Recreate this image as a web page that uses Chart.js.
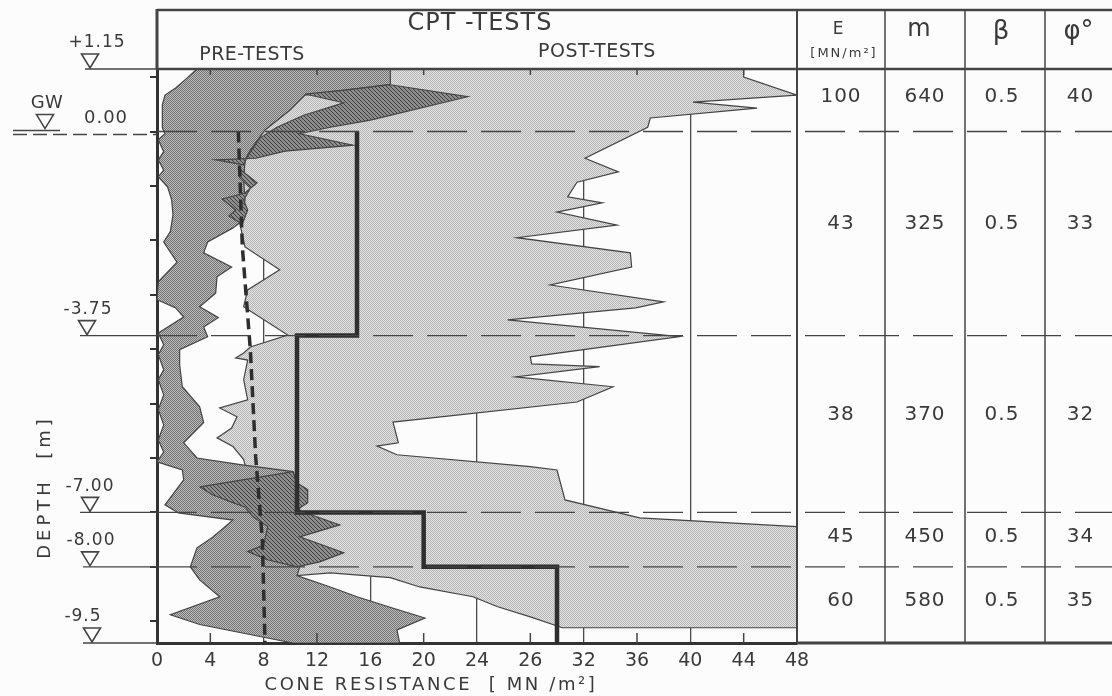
<!DOCTYPE html>
<html>
<head>
<meta charset="utf-8">
<title>CPT tests</title>
<script src="https://cdn.jsdelivr.net/npm/chart.js"></script>
<style>
  html, body { margin: 0; padding: 0; background: #fcfcfc; }
  #wrap { width: 1112px; height: 696px; }
</style>
</head>
<body>
<div id="wrap"><canvas id="cpt" width="1112" height="696"></canvas></div>
<script>
// cone resistance tick labels as printed (the figure has "26" where 28 belongs)
const xTickLabels = ['0', '4', '8', '12', '16', '20', '24', '26', '32', '36', '40', '44', '48'];

// levels marked on the depth axis [m]
const levelDepths = [1.15, 0.0, -3.75, -7.0, -8.0, -9.5];
const levelLabels = ['+1.15', '0.00', '-3.75', '-7.00', '-8.00', '-9.5'];

// soil layers and the values in the table
const layerTop = [1.15, 0.0, -3.75, -7.0, -8.0];
const layerBottom = [0.0, -3.75, -7.0, -8.0, -9.5];
const modulusE = [100, 43, 38, 45, 60];
const modulusM = [640, 325, 370, 450, 580];
const betaVals = [0.5, 0.5, 0.5, 0.5, 0.5];
const phiVals = [40, 33, 32, 34, 35];

// post-test envelope, outline [MN/m2] / [m]
const postQ = [44.0, 44.0, 48.0, 40.2, 45.0, 37.0, 36.8, 32.1, 34.6, 31.5, 30.8, 33.4, 30.0, 34.5, 27.0,
  35.5, 35.6, 29.5, 38.0, 35.9, 26.3, 39.2, 28.0, 28.1, 33.2, 26.9, 34.2, 31.5, 17.7, 18.1, 16.5, 18.0,
  28.0, 30.0, 30.6, 36.2, 48.0, 48.0, 30.4, 28.0, 25.5, 23.7, 19.7, 17.5, 13.0, 10.5, 8.5, 6.6, 6.5,
  5.7, 4.5, 5.6, 6.0, 4.7, 6.8, 6.5, 6.8, 5.9, 6.5, 7.0, 9.8, 6.5, 6.8, 9.2, 6.6, 6.2, 6.6, 6.2, 6.2];
const postDepth = [1.15, 1.00, 0.67, 0.54, 0.43, 0.25, 0.08, -0.49, -0.74, -0.93, -1.20, -1.31, -1.48, -1.72, -1.95,
  -2.23, -2.49, -2.82, -3.13, -3.24, -3.46, -3.77, -4.14, -4.27, -4.32, -4.51, -4.69, -4.97, -5.34, -5.72, -5.78, -5.94,
  -6.16, -6.22, -6.77, -7.10, -7.26, -9.12, -9.12, -8.92, -8.73, -8.55, -8.37, -8.20, -8.11, -8.16, -7.14, -6.13, -6.03,
  -5.79, -5.63, -5.45, -5.24, -5.08, -4.93, -4.56, -4.20, -4.16, -4.07, -3.96, -3.74, -3.22, -2.91, -2.54, -2.12, -1.68, -0.52, 0.03, 1.15];

// pre-test envelope, outline
const preQ = [17.5, 17.5, 11.1, 10.0, 8.1, 7.0, 6.6, 6.5, 6.6, 6.4, 6.2, 5.7, 3.8, 3.5, 5.6, 4.5, 4.4, 3.2,
  4.6, 3.5, 3.8, 1.7, 1.7, 1.9, 3.2, 3.5, 2.0, 3.0, 6.5, 10.2, 10.5, 10.7, 10.7, 10.7, 10.5, 13.0, 15.0,
  17.3, 20.1, 18.0, 18.2, 10.2,
  3.2, 1.0, 4.7, 3.2, 2.5, 3.0, 4.2, 5.7, 1.6, 0.6, 2.0, 1.9, 0.0, 0.5, 0.1, 0.5, 0.1, 0.5, 0.1, 0.5, 0.1,
  0.5, 0.1, 2.0, 1.4, 0.0, 0.1, 1.5, 0.5, 1.0, 1.2, 1.1, 0.8, 0.1, 0.5, 0.1, 0.5, 0.1, 0.6, 0.4, 0.4, 0.6,
  1.4, 2.1, 3.0];
const preDepth = [1.15, 0.87, 0.67, 0.40, 0.03, -0.34, -0.52, -0.89, -1.26, -1.53, -1.68, -1.77, -2.03, -2.23, -2.49, -2.67, -2.97, -3.22,
  -3.42, -3.59, -3.77, -4.01, -4.29, -4.69, -5.06, -5.35, -5.72, -6.00, -6.13, -6.25, -6.46, -6.95, -7.45, -8.00, -8.16, -8.37, -8.55,
  -8.73, -8.94, -9.16, -9.40, -9.40,
  -9.06, -8.88, -8.55, -8.24, -8.00, -7.65, -7.45, -7.14, -7.01, -6.86, -6.40, -6.22, -6.07, -5.89, -5.67, -5.39, -5.11, -4.84, -4.56, -4.38, -4.10,
  -3.92, -3.70, -3.41, -3.24, -3.09, -2.76, -2.40, -2.03, -1.84, -1.53, -1.26, -1.02, -0.83, -0.71, -0.52, -0.37, -0.15, -0.04, 0.07, 0.49, 0.67,
  0.80, 0.95, 1.15];

// hatched zones where the records overlap
const hatchTopQ = [11.1, 14.1, 17.5, 23.3, 16.0, 13.0, 10.7, 14.7, 9.6, 7.4, 4.4, 6.5, 6.8, 7.7, 9.0, 11.0, 14.0];
const hatchTopDepth = [0.69, 0.76, 0.86, 0.64, 0.21, 0.08, -0.04, -0.25, -0.36, -0.49, -0.52, -0.61, -0.45, -0.12, 0.08, 0.30, 0.53];
const hatchMidQ = [6.1, 7.5, 6.6, 4.9, 5.9, 5.4, 6.4, 6.8, 6.5, 7.0, 6.2];
const hatchMidDepth = [-0.67, -0.94, -1.13, -1.24, -1.44, -1.55, -1.70, -1.44, -1.26, -1.04, -0.85];
const hatchLowQ = [3.2, 10.2, 10.5, 11.3, 11.3, 10.5, 13.7, 10.7, 14.0, 12.2, 10.5, 8.3, 6.8, 8.0, 8.3, 7.2, 6.6, 5.7, 4.2];
const hatchLowDepth = [-6.53, -6.25, -6.46, -6.58, -6.82, -6.95, -7.23, -7.45, -7.74, -7.91, -8.00, -7.87, -7.72, -7.60, -7.26, -7.08, -6.90, -6.82, -6.68];

// mean of the pre-tests (dashed) and the design profile (step)
const meanQ = [6.1, 6.4, 7.0, 7.4, 7.9, 8.1];
const meanDepth = [0.0, -2.12, -4.01, -5.98, -7.50, -9.40];
const designQ = [15, 15, 10.5, 10.5, 20, 20, 30, 30];
const designDepth = [0.0, -3.75, -3.75, -7.0, -7.0, -8.0, -8.0, -9.5];

const ink = '#3a3a3a';
const paper = '#fcfcfc';
const fontFam = '"DejaVu Sans", "Noto Sans", sans-serif';

const canvas = document.getElementById('cpt');
const mainCtx = canvas.getContext('2d');

function makePattern(size, paint) {
    const c = document.createElement('canvas');
    c.width = size;
    c.height = size;
    paint(c.getContext('2d'));
    return mainCtx.createPattern(c, 'repeat');
}

// screened fills like the print
const lightFill = makePattern(2, g => {
    g.fillStyle = '#e3e3e3'; g.fillRect(0, 0, 2, 2);
    g.fillStyle = '#b5b5b5'; g.fillRect(0, 0, 1, 1); g.fillRect(1, 1, 1, 1);
});
const midFill = makePattern(2, g => {
    g.fillStyle = '#bebebe'; g.fillRect(0, 0, 2, 2);
    g.fillStyle = '#727272'; g.fillRect(0, 0, 1, 1); g.fillRect(1, 1, 1, 1);
});
const hatchFill = makePattern(4, g => {
    g.fillStyle = '#8e8e8e'; g.fillRect(0, 0, 4, 4);
    g.fillStyle = '#3c3c3c';
    for (let i = 0; i < 4; i++) g.fillRect(i, i, 1, 1);
});

function points(qs, ds, closed) {
    const p = qs.map((q, i) => ({x: q, y: ds[i]}));
    if (closed) p.push({x: qs[0], y: ds[0]});
    return p;
}

function polygon(label, qs, ds, fillStyle, order) {
    return {
        label: label,
        data: points(qs, ds, true),
        fill: 'shape',
        backgroundColor: fillStyle,
        borderColor: '#444',
        borderWidth: 1.2,
        order: order
    };
}

function txt(ctx, s, x, y, size, spacing, rot) {
    ctx.save();
    ctx.font = size + 'px ' + fontFam;
    ctx.fillStyle = ink;
    ctx.textAlign = 'center';
    ctx.textBaseline = 'middle';
    ctx.letterSpacing = (spacing || 0) + 'px';
    ctx.translate(x, y);
    if (rot) ctx.rotate(rot);
    ctx.fillText(s, 0, 0);
    ctx.restore();
}

function seg(ctx, x1, y1, x2, y2, w, dash) {
    ctx.save();
    ctx.strokeStyle = '#444';
    ctx.lineWidth = w;
    ctx.setLineDash(dash || []);
    ctx.beginPath();
    ctx.moveTo(x1, y1);
    ctx.lineTo(x2, y2);
    ctx.stroke();
    ctx.restore();
}

function triangle(ctx, cx, tip) {
    ctx.save();
    ctx.beginPath();
    ctx.moveTo(cx - 8.5, tip - 15);
    ctx.lineTo(cx + 8.5, tip - 15);
    ctx.lineTo(cx, tip - 1);
    ctx.closePath();
    ctx.fillStyle = paper;
    ctx.fill();
    ctx.strokeStyle = '#444';
    ctx.lineWidth = 1.6;
    ctx.stroke();
    ctx.restore();
}

// triangle x, label x and where the level line starts, per level
const markerStyle = [
    {tri: 90, lab: 97, from: 85},
    {tri: 45, lab: 106, from: 13},
    {tri: 87, lab: 88, from: 80},
    {tri: 90, lab: 90, from: 80},
    {tri: 90, lab: 91, from: 83},
    {tri: 92, lab: 83, from: 83}
];

const decor = {
    id: 'decor',
    beforeDraw(chart) {
        const {ctx, width, height} = chart;
        ctx.save();
        ctx.fillStyle = paper;
        ctx.fillRect(0, 0, width, height);
        ctx.restore();
    },
    afterDatasetsDraw(chart) {
        const {ctx, chartArea: a, scales: {x, y}} = chart;
        // layer boundaries run across the plot and the table
        layerTop.slice(1).forEach(d => {
            const py = y.getPixelForValue(d);
            seg(ctx, a.left, py, chart.width, py, 1.4, [40, 14]);
        });
        // short inner ticks between the grid lines
        x.ticks.forEach(t => {
            if (t.value % 8 !== 4) return;
            const px = x.getPixelForValue(t.value);
            seg(ctx, px, a.top, px, a.top + 6, 1.5);
            seg(ctx, px, a.bottom, px, a.bottom - 10, 1.5);
        });
    },
    afterDraw(chart) {
        const {ctx, chartArea: a, scales: {y}, width: W} = chart;
        const headTop = 10;
        const cols = [a.right, a.right + 88, a.right + 168, a.right + 248, a.right + 323];

        // header box and table frame
        seg(ctx, a.left, headTop, W, headTop, 2.5);
        seg(ctx, a.left, headTop - 1, a.left, a.top, 3);
        seg(ctx, a.left, a.top, W, a.top, 2.5);
        seg(ctx, a.right, a.bottom, W, a.bottom, 3);
        seg(ctx, a.right, headTop, a.right, a.bottom, 2);
        cols.slice(1, 4).forEach(cx => seg(ctx, cx, headTop, cx, a.bottom, 1.5));

        txt(ctx, 'CPT -TESTS', 480, 24, 24, 1);
        txt(ctx, 'PRE-TESTS', 252, 55, 19, 0.5);
        txt(ctx, 'POST-TESTS', 597, 52, 19, 0.5);

        // table head
        const mid = i => (cols[i] + cols[i + 1]) / 2;
        txt(ctx, 'E', mid(0) - 3, 30, 17);
        txt(ctx, '[MN/m²]', mid(0) + 3, 54, 13, 2);
        txt(ctx, 'm', mid(1) - 6, 30, 24);
        txt(ctx, 'β', mid(2) - 4, 32, 26);
        txt(ctx, 'φ°', mid(3) - 4, 32, 26);

        // table rows, one per layer
        layerTop.forEach((top, i) => {
            const y0 = y.getPixelForValue(top);
            const y1 = Math.min(y.getPixelForValue(layerBottom[i]), a.bottom);
            const ry = y0 + 0.45 * (y1 - y0);
            txt(ctx, String(modulusE[i]), mid(0), ry, 20, 1);
            txt(ctx, String(modulusM[i]), mid(1), ry, 20, 1);
            txt(ctx, betaVals[i].toFixed(1), mid(2) - 3, ry, 20, 1);
            txt(ctx, String(phiVals[i]), mid(3) - 2, ry, 20, 1);
        });

        // level marks left of the plot
        levelDepths.forEach((d, i) => {
            const st = markerStyle[i];
            const py = Math.min(y.getPixelForValue(d), a.bottom);
            if (i === 1) {
                seg(ctx, st.from, py - 1, 60, py - 1, 1.4);
                seg(ctx, st.from, py + 3, a.left, py + 3, 1.4, [14, 6]);
                triangle(ctx, st.tri, py - 2);
                txt(ctx, 'GW', 47, py - 28, 18, 0.5);
                txt(ctx, levelLabels[i], st.lab, py - 13, 18, 1);
            } else {
                seg(ctx, st.from, py, a.left, py, 1.4);
                triangle(ctx, st.tri, py);
                txt(ctx, levelLabels[i], st.lab, py - 26, 17, 1);
            }
        });

        // axis titles
        txt(ctx, 'DEPTH  [m]', 45, 487, 18, 4, -Math.PI / 2);
        txt(ctx, 'CONE RESISTANCE  [ MN /m²]', 431, 685, 18, 2.6);
    }
};

new Chart(canvas, {
    type: 'line',
    data: {
        datasets: [
            polygon('Post-tests', postQ, postDepth, lightFill, 6),
            polygon('Pre-tests', preQ, preDepth, midFill, 5),
            polygon('Overlap top', hatchTopQ, hatchTopDepth, hatchFill, 4),
            polygon('Overlap middle', hatchMidQ, hatchMidDepth, hatchFill, 4),
            polygon('Overlap low', hatchLowQ, hatchLowDepth, hatchFill, 4),
            {
                label: 'Mean pre-tests',
                data: points(meanQ, meanDepth),
                borderColor: '#2e2e2e',
                borderWidth: 3.5,
                borderDash: [11, 6],
                fill: false,
                order: 2
            },
            {
                label: 'Design profile',
                data: points(designQ, designDepth),
                borderColor: '#2e2e2e',
                borderWidth: 4.5,
                fill: false,
                order: 1
            }
        ]
    },
    options: {
        indexAxis: 'y',
        responsive: false,
        maintainAspectRatio: false,
        animation: false,
        events: [],
        devicePixelRatio: 1,
        layout: {padding: {top: 69, right: 315, bottom: 0, left: 0}},
        elements: {
            point: {radius: 0, hoverRadius: 0},
            line: {tension: 0}
        },
        plugins: {
            legend: {display: false},
            tooltip: {enabled: false}
        },
        scales: {
            x: {
                type: 'linear',
                position: 'bottom',
                min: 0,
                max: 48,
                z: 1,
                afterFit: scale => { scale.height = 53; },
                grid: {
                    drawTicks: false,
                    lineWidth: 1.3,
                    color: c => (c.tick && c.tick.value % 8 === 0 && c.tick.value > 0 && c.tick.value < 48) ? '#4a4a4a' : 'rgba(0,0,0,0)'
                },
                border: {display: true, color: '#333', width: 3},
                ticks: {
                    stepSize: 4,
                    autoSkip: false,
                    maxRotation: 0,
                    padding: 7,
                    color: ink,
                    font: {family: fontFam, size: 19},
                    callback: (value, index) => xTickLabels[index]
                }
            },
            y: {
                type: 'linear',
                position: 'left',
                min: -9.4,
                max: 1.15,
                z: 1,
                afterFit: scale => { scale.width = 157; },
                grid: {drawOnChartArea: false, drawTicks: true, tickLength: 7, color: '#333', lineWidth: 2},
                border: {display: true, color: '#333', width: 3},
                ticks: {stepSize: 1, includeBounds: false, display: false}
            }
        }
    },
    plugins: [decor]
});
</script>
</body>
</html>
